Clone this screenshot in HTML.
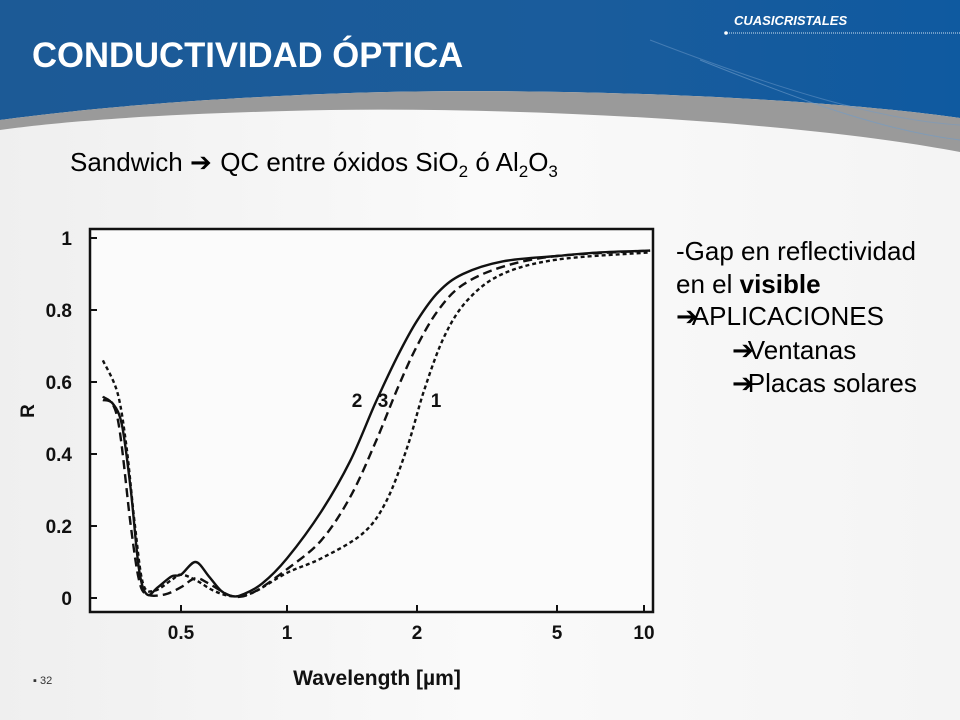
<!DOCTYPE html>
<html><head><meta charset="utf-8"><style>
body{margin:0;width:960px;height:720px;overflow:hidden;background:#f2f2f2;font-family:"Liberation Sans",sans-serif;position:relative}
.t{position:absolute;white-space:nowrap;color:#000}
.ar{font-family:"DejaVu Sans",sans-serif;font-weight:bold;font-size:1em;letter-spacing:-6px}
</style></head><body>
<svg width="960" height="720" style="position:absolute;left:0;top:0">
<defs><linearGradient id="bg" x1="0" y1="0" x2="1" y2="0"><stop offset="0" stop-color="#1c5a96"/><stop offset="0.6" stop-color="#1a5c9c"/><stop offset="1" stop-color="#0f5aa0"/></linearGradient>
<linearGradient id="wg" x1="0" y1="0" x2="1" y2="0"><stop offset="0" stop-color="#efefef"/><stop offset="0.5" stop-color="#fafafa"/><stop offset="1" stop-color="#f4f4f4"/></linearGradient></defs>
<rect x="0" y="0" width="960" height="720" fill="url(#wg)"/>
<path d="M0,0H960V118C800,95 500,85 300,95C150,102 60,112 0,120Z" fill="url(#bg)"/>
<path d="M0,120C60,112 150,102 300,95C500,85 800,95 960,118V152C820,125 560,107 330,110C180,113 70,120 0,130Z" fill="#9a9a9a"/>
<path d="M700,60C800,100 880,130 960,140" stroke="#6f9cc9" stroke-width="1" fill="none" opacity="0.6"/>
<path d="M650,40C780,90 880,120 960,125" stroke="#6f9cc9" stroke-width="1" fill="none" opacity="0.5"/>
<line x1="727" y1="33" x2="960" y2="33" stroke="#cfe0f0" stroke-width="1" stroke-dasharray="1,1"/>
<circle cx="726" cy="33" r="1.8" fill="#fff"/>
</svg>
<div class="t" style="left:734px;top:13px;font-size:13px;font-weight:bold;font-style:italic;color:#fff">CUASICRISTALES</div>
<div class="t" style="left:32px;top:36px;font-size:35px;font-weight:bold;color:#fff;transform-origin:0 0;transform:scaleX(0.99)">CONDUCTIVIDAD ÓPTICA</div>
<div class="t" style="left:70px;top:147px;font-size:26px">Sandwich <span class="ar">➔</span>&nbsp; QC entre óxidos SiO<sub style="font-size:17px">2</sub> ó Al<sub style="font-size:17px">2</sub>O<sub style="font-size:17px">3</sub></div>
<div class="t" style="left:676px;top:235px;font-size:26px;line-height:32.5px">-Gap en reflectividad<br>en el <b>visible</b><br><span class="ar">➔</span>APLICACIONES<br><span style="padding-left:56px"><span class="ar">➔</span>Ventanas</span><br><span style="padding-left:56px"><span class="ar">➔</span>Placas solares</span></div>
<div class="t" style="left:33px;top:675px;font-size:11px;color:#333">▪ 32</div>
<svg id="chart" width="960" height="720" style="position:absolute;left:0;top:0"></svg>
<script>
const xTicks=[0.5,1,2,5,10];
const xTickPx=[181,287,417,557,644];
const yTicks=[0,0.2,0.4,0.6,0.8,1];
const yTickLabels=["0","0.2","0.4","0.6","0.8","1"];
const wl2=[0.30,0.32,0.34,0.36,0.38,0.40,0.43,0.47,0.50,0.55,0.60,0.65,0.70,0.75,0.85,1.0,1.2,1.4,1.6,1.8,2.0,2.3,2.7,3.5,5,7,10.5];
const r2=[0.55,0.54,0.48,0.30,0.08,0.01,0.03,0.06,0.065,0.10,0.06,0.02,0.005,0.01,0.04,0.11,0.24,0.38,0.54,0.67,0.77,0.85,0.90,0.935,0.95,0.96,0.965];
const wl3=[0.30,0.33,0.36,0.38,0.40,0.45,0.50,0.55,0.60,0.70,0.80,1.0,1.2,1.4,1.6,1.8,2.0,2.3,2.7,3.5,5,10.5];
const r3=[0.56,0.50,0.20,0.05,0.01,0.01,0.03,0.055,0.04,0.005,0.015,0.08,0.16,0.28,0.43,0.58,0.70,0.80,0.87,0.92,0.95,0.965];
const wl1=[0.30,0.33,0.35,0.37,0.39,0.42,0.47,0.50,0.55,0.62,0.70,0.80,1.0,1.2,1.5,1.7,1.9,2.1,2.4,2.8,3.5,5,10.5];
const r1=[0.66,0.57,0.42,0.20,0.04,0.02,0.05,0.065,0.05,0.02,0.005,0.015,0.07,0.11,0.18,0.27,0.42,0.58,0.73,0.83,0.90,0.94,0.96];
const NS="http://www.w3.org/2000/svg";
const svg=document.getElementById('chart');
function X(v){const L=Math.log10(v);const lt=xTicks.map(Math.log10);
 let i=0;if(L>lt[lt.length-1])i=lt.length-2;else{while(i<lt.length-2&&L>lt[i+1])i++;}
 return xTickPx[i]+(L-lt[i])/(lt[i+1]-lt[i])*(xTickPx[i+1]-xTickPx[i]);}
function Y(v){return 598-v*360;}
function mk(t,a){const e=document.createElementNS(NS,t);for(const k in a)e.setAttribute(k,a[k]);svg.appendChild(e);return e;}
const fr=mk('rect',{x:90,y:229,width:563,height:383,fill:'#fbfbfb',stroke:'#111','stroke-width':2.5});

const F='Liberation Sans, sans-serif';
yTicks.forEach((v,i)=>{const l=mk('line',{x1:90,x2:97,y1:Y(v),y2:Y(v),stroke:'#111','stroke-width':2});
 
 const t=mk('text',{x:72,y:Y(v)+7,'text-anchor':'end','font-size':19,'font-weight':'bold','font-family':F,fill:'#111'});
 t.textContent=yTickLabels[i];});
xTicks.forEach((v)=>{const l=mk('line',{x1:X(v),x2:X(v),y1:612,y2:605,stroke:'#111','stroke-width':2});
 
 const t=mk('text',{x:X(v),y:639,'text-anchor':'middle','font-size':19,'font-weight':'bold','font-family':F,fill:'#111'});
 t.textContent=String(v);});
const xt=mk('text',{x:377,y:685,'text-anchor':'middle','font-size':21,'font-weight':'bold','font-family':F,fill:'#111'});
xt.textContent='Wavelength [µm]';
const yt=mk('text',{x:0,y:0,transform:'translate(34,411) rotate(-90)','text-anchor':'middle','font-size':19,'font-weight':'bold','font-family':F,fill:'#111'});
yt.textContent='R';
function line(wl,r,dash,name){const P=wl.map((w,i)=>[X(w),Y(r[i])]);
 let d='M'+P[0][0].toFixed(1)+','+P[0][1].toFixed(1);
 for(let i=0;i<P.length-1;i++){const p0=P[Math.max(0,i-1)],p1=P[i],p2=P[i+1],p3=P[Math.min(P.length-1,i+2)];
  const c1=[p1[0]+(p2[0]-p0[0])/6,p1[1]+(p2[1]-p0[1])/6],c2=[p2[0]-(p3[0]-p1[0])/6,p2[1]-(p3[1]-p1[1])/6];
  d+='C'+c1.map(n=>n.toFixed(1)).join(',')+' '+c2.map(n=>n.toFixed(1)).join(',')+' '+p2[0].toFixed(1)+','+p2[1].toFixed(1);}
 const p=mk('path',{d:d,fill:'none',stroke:'#111','stroke-width':2.4,'stroke-dasharray':dash,'stroke-linejoin':'round'});
 }
line(wl1,r1,'4,3','series-1-line');
line(wl3,r3,'9,5','series-3-line');
line(wl2,r2,'none','series-2-line');
[['2',357],['3',383],['1',436]].forEach(([s,x])=>{const t=mk('text',{x:x,y:407,'text-anchor':'middle','font-size':19,'font-weight':'bold','font-family':F,fill:'#111'});
 t.textContent=s;});
</script>
</body></html>
